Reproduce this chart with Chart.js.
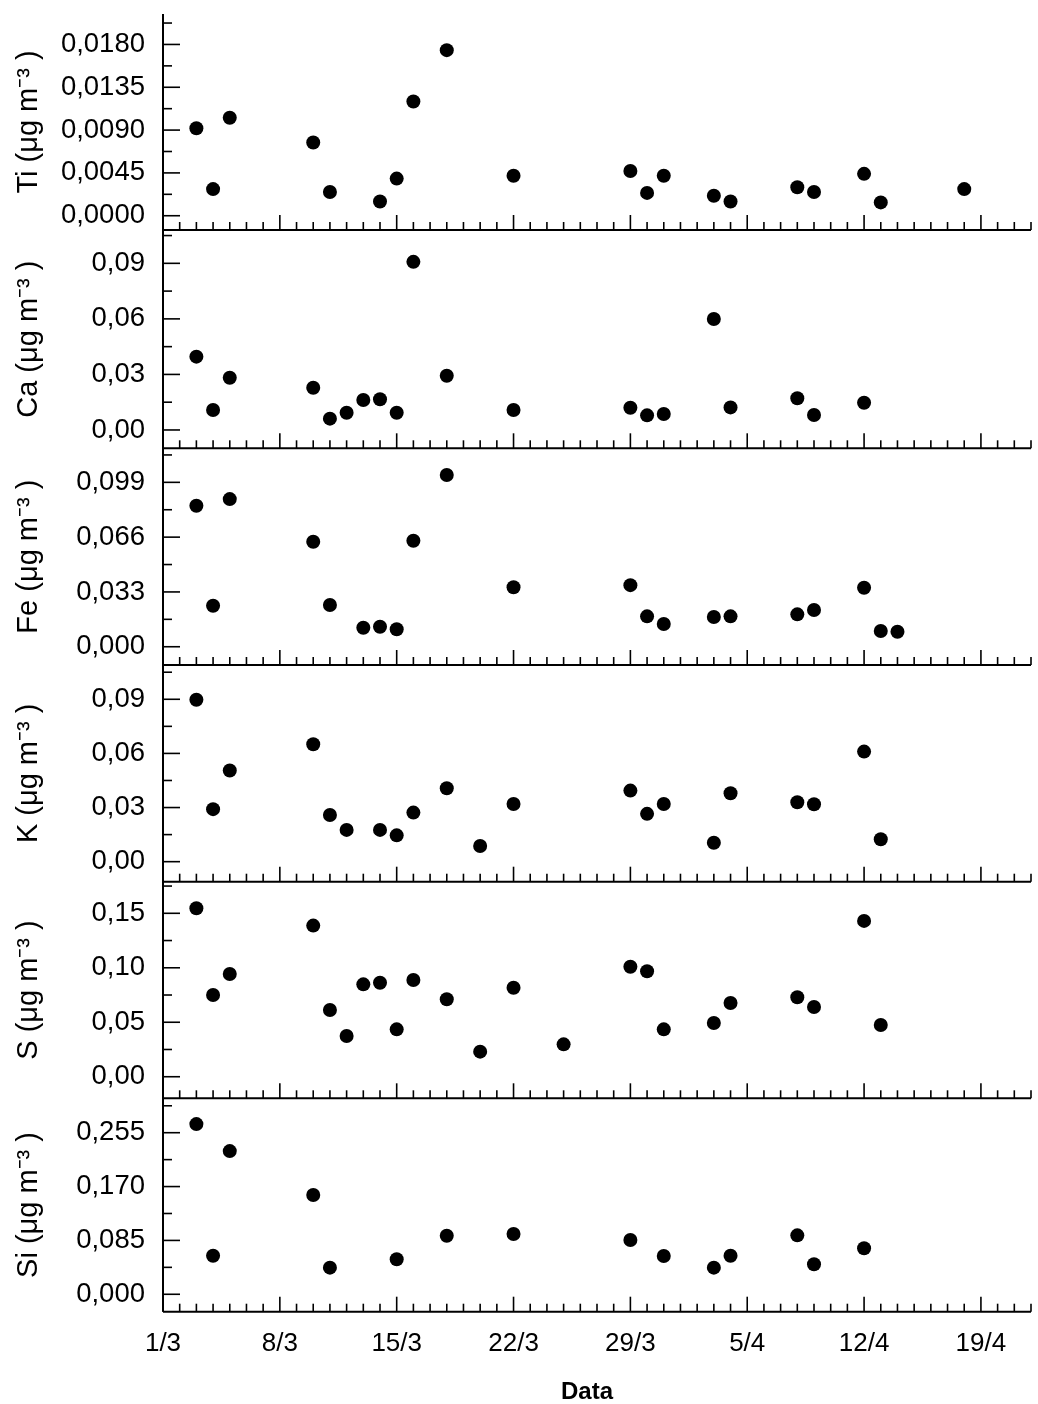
<!DOCTYPE html>
<html><head><meta charset="utf-8">
<script src="https://cdn.jsdelivr.net/npm/chart.js@4.4.1/dist/chart.umd.min.js"></script>
<style>html,body{margin:0;padding:0;background:#fff;}canvas{display:block;}</style>
</head><body>
<canvas id="c" width="1038" height="1404"></canvas>
<script>
// x: days since 1 March (0 = 1/3)
const xTickDays = [0, 7, 14, 21, 28, 35, 42, 49];
const xTickLabels = ['1/3', '8/3', '15/3', '22/3', '29/3', '5/4', '12/4', '19/4'];
const xRange = [0, 52];

const tiDays = [2,3,4,9,10,13,14,15,17,21,28,29,30,33,34,38,39,42,43,48];
const tiValues = [0.0092,0.0028,0.0103,0.0077,0.0025,0.0015,0.0039,0.0120,0.0174,0.0042,0.0047,0.0024,0.0042,0.0021,0.0015,0.0030,0.0025,0.0044,0.0014,0.0028];
const tiTicks = [0, 0.0045, 0.0090, 0.0135, 0.0180];
const tiRange = [-0.0015, 0.0212];

const caDays = [2,3,4,9,10,11,12,13,14,15,17,21,28,29,30,33,34,38,39,42];
const caValues = [0.0396,0.0108,0.0282,0.0228,0.0061,0.0093,0.0162,0.0166,0.0093,0.0908,0.0293,0.0108,0.0120,0.0079,0.0086,0.0599,0.0122,0.0171,0.0081,0.0147];
const caTicks = [0, 0.03, 0.06, 0.09];
const caRange = [-0.0099, 0.108];

const feDays = [2,3,4,9,10,12,13,14,15,17,21,28,29,30,33,34,38,39,42,43,44];
const feValues = [0.0849,0.0247,0.0889,0.0632,0.0251,0.0114,0.0120,0.0105,0.0638,0.1034,0.0358,0.0371,0.0183,0.0137,0.0179,0.0183,0.0195,0.0221,0.0355,0.0095,0.0090];
const feTicks = [0, 0.033, 0.066, 0.099];
const feRange = [-0.011, 0.1195];

const kDays = [2,3,4,9,10,11,13,14,15,17,19,21,28,29,30,33,34,38,39,42,43];
const kValues = [0.0897,0.0291,0.0505,0.0651,0.0259,0.0176,0.0176,0.0146,0.0272,0.0407,0.0087,0.0320,0.0394,0.0265,0.0320,0.0105,0.0379,0.0329,0.0318,0.0610,0.0124];
const kTicks = [0, 0.03, 0.06, 0.09];
const kRange = [-0.0111, 0.109];

const sDays = [2,3,4,9,10,11,12,13,14,15,17,19,21,24,28,29,30,33,34,38,39,42,43];
const sValues = [0.1546,0.0750,0.0943,0.1387,0.0612,0.0374,0.0848,0.0863,0.0435,0.0888,0.0711,0.0230,0.0817,0.0297,0.1010,0.0968,0.0435,0.0493,0.0677,0.0729,0.0640,0.1430,0.0475];
const sTicks = [0, 0.05, 0.10, 0.15];
const sRange = [-0.0198, 0.179];

const siDays = [2,3,4,9,10,14,17,21,28,30,33,34,38,39,42];
const siValues = [0.2686,0.0609,0.2260,0.1566,0.0420,0.0552,0.0924,0.0951,0.0856,0.0604,0.0420,0.0609,0.0930,0.0473,0.0726];
const siTicks = [0, 0.085, 0.170, 0.255];
const siRange = [-0.0275, 0.3093];

const panels = [
  {id:'yTi', title:'Ti (μg m⁻³ )', days:tiDays, values:tiValues, ticks:tiTicks, range:tiRange, dec:4, h:216.0},
  {id:'yCa', title:'Ca (μg m⁻³ )', days:caDays, values:caValues, ticks:caTicks, range:caRange, dec:2, h:218.3},
  {id:'yFe', title:'Fe (μg m⁻³ )', days:feDays, values:feValues, ticks:feTicks, range:feRange, dec:3, h:216.7},
  {id:'yK',  title:'K (μg m⁻³ )',  days:kDays,  values:kValues,  ticks:kTicks,  range:kRange,  dec:2, h:216.7},
  {id:'yS',  title:'S (μg m⁻³ )',  days:sDays,  values:sValues,  ticks:sTicks,  range:sRange,  dec:2, h:216.6},
  {id:'ySi', title:'Si (μg m⁻³ )', days:siDays, values:siValues, ticks:siTicks, range:siRange, dec:3, h:213.4}
];

const FONT = "'Liberation Sans', Arial, sans-serif";
const LEFT = 163;

const datasets = panels.map(p => ({
  label: p.title,
  yAxisID: p.id,
  data: p.days.map((d, i) => ({x: d, y: p.values[i]})),
  backgroundColor: '#000',
  borderColor: '#000',
  borderWidth: 0,
  pointRadius: 7,
  pointHoverRadius: 7,
  showLine: false
}));

const scales = {
  x: {
    type: 'linear', position: 'bottom',
    min: xRange[0], max: xRange[1],
    afterBuildTicks: s => { s.ticks = xTickDays.map(v => ({value: v})); },
    afterFit: s => { s.height = 92.3; s.paddingLeft = 0; s.paddingRight = 0; },
    ticks: {
      autoSkip: false, maxRotation: 0, color: '#000', padding: 17,
      font: {family: FONT, size: 26},
      callback: (v) => { const i = xTickDays.indexOf(v); return i >= 0 ? xTickLabels[i] : ''; }
    },
    grid: {display: false, drawTicks: false},
    border: {display: false},
    title: {display: true, text: 'Data   ', color: '#000', font: {family: FONT, size: 24, weight: 'bold', lineHeight: 1}, padding: {top: 0, bottom: 0}}
  }
};
panels.forEach((p, idx) => {
  scales[p.id] = {
    type: 'linear', position: 'left', stack: 'panels', stackWeight: p.h,
    weight: panels.length - idx,
    min: p.range[0], max: p.range[1],
    afterBuildTicks: s => { s.ticks = p.ticks.map(v => ({value: v})); },
    afterFit: s => { s.width = LEFT; s.paddingTop = 0; s.paddingBottom = 0; },
    ticks: {
      autoSkip: false, color: '#000', padding: 18,
      font: {family: FONT, size: 27.5},
      callback: v => v.toFixed(p.dec).replace('.', ',')
    },
    grid: {display: false, drawTicks: false},
    border: {display: false},
    title: {display: true, text: p.title, color: '#000', font: {family: FONT, size: 29, lineHeight: 1.2}, padding: {top: 12, bottom: 0}}
  };
});

const axesPlugin = {
  id: 'axesPlugin',
  afterDraw(chart) {
    const ctx = chart.ctx, area = chart.chartArea, xs = chart.scales.x;
    const line = (x1, y1, x2, y2) => { ctx.beginPath(); ctx.moveTo(x1, y1); ctx.lineTo(x2, y2); ctx.stroke(); };
    ctx.save();
    ctx.strokeStyle = '#000';
    ctx.lineWidth = 2;
    line(area.left, area.top, area.left, area.bottom);
    panels.forEach(p => {
      const ys = chart.scales[p.id];
      const yb = ys.bottom;
      ctx.lineWidth = 2;
      line(area.left, yb, area.right, yb);
      ctx.lineWidth = 1.6;
      for (let d = Math.ceil(xs.min); d <= xs.max; d++) {
        const px = xs.getPixelForValue(d);
        line(px, yb, px, yb - (d % 7 === 0 ? 15 : 8));
      }
      const step = (p.ticks[1] - p.ticks[0]) / 2;
      for (let k = -6; k <= 2 * p.ticks.length + 6; k++) {
        const v = p.ticks[0] + k * step;
        if (v < ys.min || v > ys.max) continue;
        const py = ys.getPixelForValue(v);
        line(area.left, py, area.left + (k % 2 === 0 ? 17 : 9), py);
      }
    });
    ctx.restore();
  }
};

new Chart(document.getElementById('c'), {
  type: 'scatter',
  data: {datasets},
  options: {
    responsive: false,
    devicePixelRatio: 1,
    animation: false,
    layout: {padding: {top: 14, right: 3, left: 0, bottom: 0}},
    plugins: {legend: {display: false}, tooltip: {enabled: false}},
    scales
  },
  plugins: [axesPlugin]
});
</script>
</body></html>
